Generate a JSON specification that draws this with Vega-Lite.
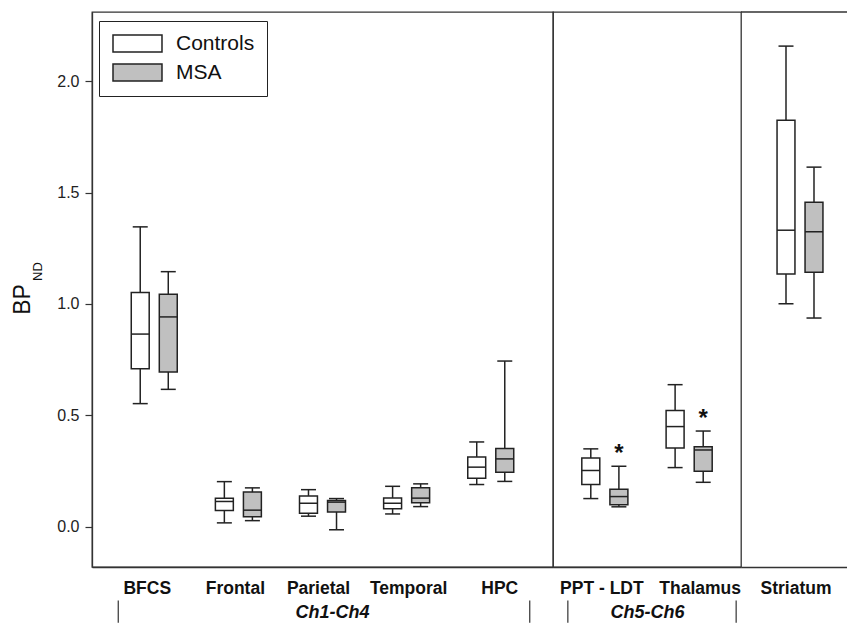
{
  "$schema": "https://vega.github.io/schema/vega-lite/v6.json",
  "background": "white",
  "padding": {"left": 10, "top": 11, "right": 0, "bottom": 0},
  "config": {
    "font": "Liberation Sans",
    "view": {"stroke": "#333", "strokeWidth": 1.3},
    "axis": {"grid": false, "domainColor": "#333", "domainWidth": 1.3, "tickColor": "#333", "tickWidth": 1.2}
  },
  "datasets": {
    "boxes": [
      {"panel": "A", "region": "BFCS", "group": "Controls", "min": 0.553, "q1": 0.710, "median": 0.865, "q3": 1.051, "max": 1.346, "sig": ""},
      {"panel": "A", "region": "BFCS", "group": "MSA", "min": 0.617, "q1": 0.695, "median": 0.942, "q3": 1.044, "max": 1.145, "sig": ""},
      {"panel": "A", "region": "Frontal", "group": "Controls", "min": 0.018, "q1": 0.073, "median": 0.114, "q3": 0.129, "max": 0.203, "sig": ""},
      {"panel": "A", "region": "Frontal", "group": "MSA", "min": 0.028, "q1": 0.045, "median": 0.075, "q3": 0.156, "max": 0.175, "sig": ""},
      {"panel": "A", "region": "Parietal", "group": "Controls", "min": 0.048, "q1": 0.061, "median": 0.106, "q3": 0.139, "max": 0.167, "sig": ""},
      {"panel": "A", "region": "Parietal", "group": "MSA", "min": -0.013, "q1": 0.067, "median": 0.111, "q3": 0.118, "max": 0.127, "sig": ""},
      {"panel": "A", "region": "Temporal", "group": "Controls", "min": 0.058, "q1": 0.081, "median": 0.106, "q3": 0.130, "max": 0.182, "sig": ""},
      {"panel": "A", "region": "Temporal", "group": "MSA", "min": 0.091, "q1": 0.108, "median": 0.129, "q3": 0.176, "max": 0.193, "sig": ""},
      {"panel": "A", "region": "HPC", "group": "Controls", "min": 0.190, "q1": 0.218, "median": 0.268, "q3": 0.314, "max": 0.381, "sig": ""},
      {"panel": "A", "region": "HPC", "group": "MSA", "min": 0.204, "q1": 0.245, "median": 0.305, "q3": 0.352, "max": 0.744, "sig": ""},
      {"panel": "B", "region": "PPT - LDT", "group": "Controls", "min": 0.127, "q1": 0.190, "median": 0.253, "q3": 0.309, "max": 0.350, "sig": ""},
      {"panel": "B", "region": "PPT - LDT", "group": "MSA", "min": 0.090, "q1": 0.099, "median": 0.136, "q3": 0.169, "max": 0.272, "sig": "*"},
      {"panel": "B", "region": "Thalamus", "group": "Controls", "min": 0.266, "q1": 0.354, "median": 0.450, "q3": 0.522, "max": 0.638, "sig": ""},
      {"panel": "B", "region": "Thalamus", "group": "MSA", "min": 0.200, "q1": 0.250, "median": 0.345, "q3": 0.360, "max": 0.430, "sig": "*"},
      {"panel": "C", "region": "Striatum", "group": "Controls", "min": 1.001, "q1": 1.135, "median": 1.331, "q3": 1.824, "max": 2.157, "sig": ""},
      {"panel": "C", "region": "Striatum", "group": "MSA", "min": 0.937, "q1": 1.142, "median": 1.324, "q3": 1.457, "max": 1.614, "sig": ""}
    ],
    "one": [{"k": 1}]
  },
  "spacing": 0,
  "bounds": "flush",
  "resolve": {"scale": {"xOffset": "independent"}},
  "hconcat": [
    {
      "width": 461,
      "height": 555,
      "resolve": {"axis": {"y": "independent"}},
      "layer": [
        {
          "data": {"name": "boxes"},
          "transform": [{"filter": "datum.panel === 'A'"}],
          "encoding": {
            "x": {"field": "region", "type": "nominal", "sort": null,
              "scale": {"domain": ["BFCS", "Frontal", "Parietal", "Temporal", "HPC"], "paddingInner": 0, "paddingOuter": 0.24},
              "axis": {"title": "Ch1-Ch4", "labelAngle": 0, "ticks": false, "labelPadding": 12, "labelFontSize": 17.5, "labelFontWeight": "bold", "labelColor": "#111", "titleFontSize": 18, "titleFontStyle": "italic", "titleFontWeight": "bold", "titleColor": "#111", "titlePadding": 7, "titleX": 240,
                "labelOffset": {"condition": [{"test": "datum.value === 'BFCS'", "value": -7}, {"test": "datum.value === 'HPC'", "value": 9}, {"test": "datum.value === 'Parietal'", "value": -4}, {"test": "datum.value === 'Frontal'", "value": -3}], "value": 2}}},
            "xOffset": {"field": "group", "type": "nominal", "sort": ["Controls", "MSA"], "scale": {"paddingInner": 0.36, "paddingOuter": 0.68}}
          },
          "layer": [
            {"mark": {"type": "rule", "color": "#222", "strokeWidth": 1.5},
             "encoding": {"y": {"field": "min", "type": "quantitative", "scale": {"domain": [-0.18, 2.31], "nice": false, "zero": false},
               "axis": {"title": "BP", "values": [0, 0.5, 1, 1.5, 2], "format": ".1f", "labelFontSize": 16, "labelColor": "#222", "tickSize": 7, "labelPadding": 6, "titleFontSize": 23, "titleFontWeight": "normal", "titleColor": "#111", "titleAngle": 270, "titleAlign": "center", "titleBaseline": "bottom", "titleX": -58, "titleY": 287}},
               "y2": {"field": "max"}}},
            {"mark": {"type": "bar", "stroke": "#222", "strokeWidth": 1.5},
             "encoding": {"y": {"field": "q1", "type": "quantitative"}, "y2": {"field": "q3"},
               "fill": {"field": "group", "type": "nominal", "scale": {"domain": ["Controls", "MSA"], "range": ["#ffffff", "#c0c0c0"]},
                 "legend": {"orient": "none", "legendX": 7, "legendY": 9, "title": null, "symbolType": "M-1,-1H4.764V1H-1Z", "symbolSize": 289, "symbolStrokeColor": "#222", "symbolStrokeWidth": 1.5, "symbolOpacity": 1, "labelFontSize": 21, "labelColor": "#111", "labelOffset": 44, "padding": 12, "rowPadding": 6, "strokeColor": "#222", "fillColor": "#ffffff"}}}},
            {"mark": {"type": "tick", "color": "#222", "opacity": 1, "thickness": 1.5, "size": 18},
             "encoding": {"y": {"field": "median", "type": "quantitative"}}},
            {"mark": {"type": "tick", "color": "#222", "opacity": 1, "thickness": 1.5, "size": 15},
             "encoding": {"y": {"field": "min", "type": "quantitative"}}},
            {"mark": {"type": "tick", "color": "#222", "opacity": 1, "thickness": 1.5, "size": 15},
             "encoding": {"y": {"field": "max", "type": "quantitative"}}}
          ]
        },
        {
          "data": {"name": "one"},
          "mark": {"type": "rule", "color": "#333", "strokeWidth": 1.2, "xOffset": -36},
          "encoding": {
            "x": {"datum": "BFCS", "type": "nominal", "scale": {"domain": ["BFCS", "Frontal", "Parietal", "Temporal", "HPC"], "paddingInner": 0, "paddingOuter": 0.24}},
            "y": {"datum": -0.33, "type": "quantitative", "scale": {"domain": [-0.18, 2.31], "nice": false, "zero": false},
              "axis": {"orient": "left", "title": "ND", "labels": false, "ticks": false, "domain": false, "titleFontSize": 13, "titleFontWeight": "normal", "titleColor": "#111", "titleAngle": 270, "titleAlign": "center", "titleBaseline": "bottom", "titleX": -48, "titleY": 259}},
            "y2": {"datum": -0.43}
          }
        },
        {
          "data": {"name": "one"},
          "mark": {"type": "rule", "color": "#333", "strokeWidth": 1.2, "xOffset": 39},
          "encoding": {
            "x": {"datum": "HPC", "type": "nominal", "scale": {"domain": ["BFCS", "Frontal", "Parietal", "Temporal", "HPC"], "paddingInner": 0, "paddingOuter": 0.24}},
            "y": {"datum": -0.33, "type": "quantitative", "scale": {"domain": [-0.18, 2.31], "nice": false, "zero": false}, "axis": null},
            "y2": {"datum": -0.43}
          }
        }
      ]
    },
    {
      "width": 188,
      "height": 555,
      "layer": [
        {
          "data": {"name": "boxes"},
          "transform": [{"filter": "datum.panel === 'B'"}],
          "encoding": {
            "x": {"field": "region", "type": "nominal", "sort": null,
              "scale": {"domain": ["PPT - LDT", "Thalamus"], "paddingInner": 0, "paddingOuter": 0.115},
              "axis": {"title": "Ch5-Ch6", "labelAngle": 0, "ticks": false, "labelPadding": 12, "labelFontSize": 17.5, "labelFontWeight": "bold", "labelColor": "#111", "titleFontSize": 18, "titleFontStyle": "italic", "titleFontWeight": "bold", "titleColor": "#111", "titlePadding": 7,
                "labelOffset": {"condition": {"test": "datum.value === 'Thalamus'", "value": 11}, "value": -3}}},
            "xOffset": {"field": "group", "type": "nominal", "sort": ["Controls", "MSA"], "scale": {"paddingInner": 0.36, "paddingOuter": 0.68}}
          },
          "layer": [
            {"mark": {"type": "rule", "color": "#222", "strokeWidth": 1.5},
             "encoding": {"y": {"field": "min", "type": "quantitative", "scale": {"domain": [-0.18, 2.31], "nice": false, "zero": false}, "axis": null},
               "y2": {"field": "max"}}},
            {"mark": {"type": "bar", "stroke": "#222", "strokeWidth": 1.5},
             "encoding": {"y": {"field": "q1", "type": "quantitative", "axis": null}, "y2": {"field": "q3"},
               "fill": {"field": "group", "type": "nominal", "scale": {"domain": ["Controls", "MSA"], "range": ["#ffffff", "#c0c0c0"]},
                 "legend": {"orient": "none", "legendX": 7, "legendY": 9, "title": null, "symbolType": "M-1,-1H4.764V1H-1Z", "symbolSize": 289, "symbolStrokeColor": "#222", "symbolStrokeWidth": 1.5, "symbolOpacity": 1, "labelFontSize": 21, "labelColor": "#111", "labelOffset": 44, "padding": 12, "rowPadding": 6, "strokeColor": "#222", "fillColor": "#ffffff"}}}},
            {"mark": {"type": "tick", "color": "#222", "opacity": 1, "thickness": 1.5, "size": 18},
             "encoding": {"y": {"field": "median", "type": "quantitative", "axis": null}}},
            {"mark": {"type": "tick", "color": "#222", "opacity": 1, "thickness": 1.5, "size": 15},
             "encoding": {"y": {"field": "min", "type": "quantitative", "axis": null}}},
            {"mark": {"type": "tick", "color": "#222", "opacity": 1, "thickness": 1.5, "size": 15},
             "encoding": {"y": {"field": "max", "type": "quantitative", "axis": null}}},
            {"mark": {"type": "text", "fontSize": 24, "fontWeight": "bold", "baseline": "alphabetic", "dy": -5, "color": "#111"},
             "encoding": {"y": {"field": "max", "type": "quantitative", "axis": null}, "text": {"field": "sig"}}}
          ]
        },
        {
          "data": {"name": "one"},
          "mark": {"type": "rule", "color": "#333", "strokeWidth": 1.2, "xOffset": -37},
          "encoding": {
            "x": {"datum": "PPT - LDT", "type": "nominal", "scale": {"domain": ["PPT - LDT", "Thalamus"], "paddingInner": 0, "paddingOuter": 0.115}},
            "y": {"datum": -0.33, "type": "quantitative", "scale": {"domain": [-0.18, 2.31], "nice": false, "zero": false}, "axis": null},
            "y2": {"datum": -0.43}
          }
        },
        {
          "data": {"name": "one"},
          "mark": {"type": "rule", "color": "#333", "strokeWidth": 1.2, "xOffset": 47},
          "encoding": {
            "x": {"datum": "Thalamus", "type": "nominal", "scale": {"domain": ["PPT - LDT", "Thalamus"], "paddingInner": 0, "paddingOuter": 0.115}},
            "y": {"datum": -0.33, "type": "quantitative", "scale": {"domain": [-0.18, 2.31], "nice": false, "zero": false}, "axis": null},
            "y2": {"datum": -0.43}
          }
        }
      ]
    },
    {
      "width": 107,
      "height": 555,
      "view": {"stroke": null},
      "layer": [
        {
          "data": {"name": "boxes"},
          "transform": [{"filter": "datum.panel === 'C'"}],
          "encoding": {
            "x": {"field": "region", "type": "nominal", "sort": null,
              "scale": {"domain": ["Striatum"], "paddingInner": 0, "paddingOuter": 0.137, "align": 0.739},
              "axis": {"title": null, "labelAngle": 0, "ticks": false, "labelPadding": 12, "labelFontSize": 17.5, "labelFontWeight": "bold", "labelColor": "#111", "labelOffset": -4}},
            "xOffset": {"field": "group", "type": "nominal", "sort": ["Controls", "MSA"], "scale": {"paddingInner": 0.36, "paddingOuter": 0.68}}
          },
          "layer": [
            {"mark": {"type": "rule", "color": "#222", "strokeWidth": 1.5},
             "encoding": {"y": {"field": "min", "type": "quantitative", "scale": {"domain": [-0.18, 2.31], "nice": false, "zero": false}, "axis": null},
               "y2": {"field": "max"}}},
            {"mark": {"type": "bar", "stroke": "#222", "strokeWidth": 1.5},
             "encoding": {"y": {"field": "q1", "type": "quantitative", "axis": null}, "y2": {"field": "q3"},
               "fill": {"field": "group", "type": "nominal", "scale": {"domain": ["Controls", "MSA"], "range": ["#ffffff", "#c0c0c0"]},
                 "legend": {"orient": "none", "legendX": 7, "legendY": 9, "title": null, "symbolType": "M-1,-1H4.764V1H-1Z", "symbolSize": 289, "symbolStrokeColor": "#222", "symbolStrokeWidth": 1.5, "symbolOpacity": 1, "labelFontSize": 21, "labelColor": "#111", "labelOffset": 44, "padding": 12, "rowPadding": 6, "strokeColor": "#222", "fillColor": "#ffffff"}}}},
            {"mark": {"type": "tick", "color": "#222", "opacity": 1, "thickness": 1.5, "size": 18},
             "encoding": {"y": {"field": "median", "type": "quantitative", "axis": null}}},
            {"mark": {"type": "tick", "color": "#222", "opacity": 1, "thickness": 1.5, "size": 15},
             "encoding": {"y": {"field": "min", "type": "quantitative", "axis": null}}},
            {"mark": {"type": "tick", "color": "#222", "opacity": 1, "thickness": 1.5, "size": 15},
             "encoding": {"y": {"field": "max", "type": "quantitative", "axis": null}}}
          ]
        },
        {
          "data": {"name": "one"},
          "mark": {"type": "rule", "color": "#333", "strokeWidth": 1.3},
          "encoding": {
            "y": {"datum": 2.31, "type": "quantitative", "scale": {"domain": [-0.18, 2.31], "nice": false, "zero": false}, "axis": null}
          }
        }
      ]
    }
  ]
}
